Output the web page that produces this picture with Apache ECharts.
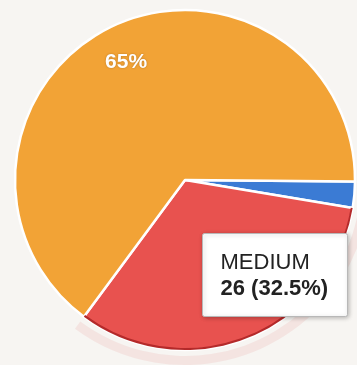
<!DOCTYPE html>
<html>
<head>
<meta charset="utf-8">
<script src="https://cdn.jsdelivr.net/npm/echarts@6/dist/echarts.min.js"></script>
<style>
  html, body { margin: 0; padding: 0; background: #f7f5f2; }
  #chart { width: 357px; height: 365px; }
</style>
</head>
<body>
<div id="chart"></div>
<script>
// Slice data, in drawing order (clockwise from 3 o'clock)
const categories = ['LOW', 'MEDIUM', 'HIGH'];
const values = [2, 26, 52];
const colors = ['#3b7bd4', '#e8524f', '#f2a336'];
const hovered = 'MEDIUM';   // slice with the open tooltip
const labelled = 'HIGH';    // slice carrying the in-slice percentage

const total = values.reduce((a, b) => a + b, 0);
const hoverIdx = categories.indexOf(hovered);
const pct = v => Math.round(v / total * 1000) / 10;

const center = [185, 180];
const R = 170;
const start = -0.5;

const pieData = categories.map((c, i) => ({ name: c, value: values[i], itemStyle: { color: colors[i] } }));

const chart = echarts.init(document.getElementById('chart'), null, { renderer: 'canvas' });
chart.setOption({
  animation: false,
  backgroundColor: '#f7f5f2',
  series: [
    // main pie
    {
      type: 'pie', center, radius: [0, R], startAngle: start, clockwise: true,
      silent: true, label: { show: false }, labelLine: { show: false },
      itemStyle: { borderColor: '#ffffff', borderWidth: 2.5 },
      data: pieData
    },
    // darker rim on the hovered slice
    {
      type: 'pie', center, radius: [R - 2, R], startAngle: start, clockwise: true,
      silent: true, label: { show: false }, labelLine: { show: false },
      data: categories.map((c, i) => ({
        name: c, value: values[i],
        itemStyle: { color: i === hoverIdx ? '#b42a2a' : 'rgba(0,0,0,0)' }
      }))
    },
    // faint halo ring around the hovered slice
    {
      type: 'pie', center, radius: [R + 6, R + 15], startAngle: start, clockwise: true,
      silent: true, label: { show: false }, labelLine: { show: false },
      data: categories.map((c, i) => ({
        name: c, value: values[i],
        itemStyle: { color: i === hoverIdx ? 'rgba(226,130,130,0.14)' : 'rgba(0,0,0,0)' }
      }))
    },
    // percentage label inside the large slice
    {
      type: 'pie', center, radius: [88, R], startAngle: start, clockwise: true,
      silent: true, labelLine: { show: false },
      itemStyle: { color: 'rgba(0,0,0,0)' },
      label: {
        show: true, position: 'inside',
        formatter: p => p.name === labelled ? Math.round(p.percent) + '%' : '',
        color: '#ffffff', fontSize: 21, fontWeight: 'bold',
        fontFamily: 'Liberation Sans, Arial, sans-serif',
        textShadowColor: 'rgba(120,70,20,0.5)', textShadowBlur: 2
      },
      data: categories.map((c, i) => ({ name: c, value: values[i] }))
    }
  ],
  graphic: [
    {
      type: 'group', left: 202, top: 233, z: 100,
      children: [
        {
          type: 'rect', z: 100, shape: { x: 0, y: 0, width: 145, height: 83, r: 2 },
          style: { fill: '#ffffff', stroke: '#b8b8b8', lineWidth: 1,
                   shadowColor: 'rgba(0,0,0,0.25)', shadowBlur: 4, shadowOffsetX: 1, shadowOffsetY: 1 }
        },
        {
          type: 'text', z: 101, x: 18, y: 18,
          style: {
            text: categories[hoverIdx], fill: '#222222', fontSize: 22,
            fontFamily: 'Liberation Sans, Arial, sans-serif'
          }
        },
        {
          type: 'text', z: 101, x: 18, y: 44,
          style: {
            text: values[hoverIdx] + ' (' + pct(values[hoverIdx]) + '%)', fill: '#222222', fontSize: 22,
            fontWeight: 'bold', fontFamily: 'Liberation Sans, Arial, sans-serif'
          }
        }
      ]
    }
  ]
});
</script>
</body>
</html>
